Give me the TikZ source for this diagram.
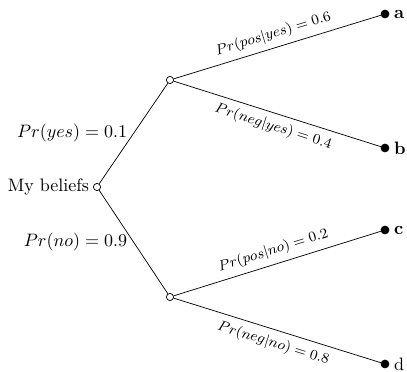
\documentclass[tikz,border=0pt]{standalone}
\begin{document}
\begin{tikzpicture}[x=0.5556pt,y=-0.5556pt,
  opennode/.style={circle,draw,fill=white,inner sep=0pt,minimum size=4pt},
  leafnode/.style={circle,draw,fill=black,inner sep=0pt,minimum size=4.4pt},
  elab/.style={font=\footnotesize,sloped}]
\useasboundingbox (0,0) rectangle (407,372);
\node[opennode,label={[inner sep=2pt]left:My beliefs}] (r) at (97,187) {};
\node[opennode] (y) at (170,80) {};
\node[opennode] (n) at (170,297) {};
\node[leafnode,label={[inner sep=2.5pt]right:\textbf{a}}] (a) at (385,14) {};
\node[leafnode,label={[inner sep=2.5pt]right:\textbf{b}}] (b) at (385,148) {};
\node[leafnode,label={[inner sep=2.5pt]right:\textbf{c}}] (c) at (385,230) {};
\node[leafnode,label={[inner sep=2.5pt]right:d}] (d) at (385,364) {};
\draw (r) -- node[left] {$Pr(yes) = 0.1$} (y);
\draw (r) -- node[left] {$Pr(no) = 0.9$} (n);
\draw (y) -- node[elab,above] {$Pr(pos|yes) = 0.6$} (a);
\draw (y) -- node[elab,below] {$Pr(neg|yes) = 0.4$} (b);
\draw (n) -- node[elab,above] {$Pr(pos|no) = 0.2$} (c);
\draw (n) -- node[elab,below] {$Pr(neg|no) = 0.8$} (d);
\end{tikzpicture}
\end{document}
